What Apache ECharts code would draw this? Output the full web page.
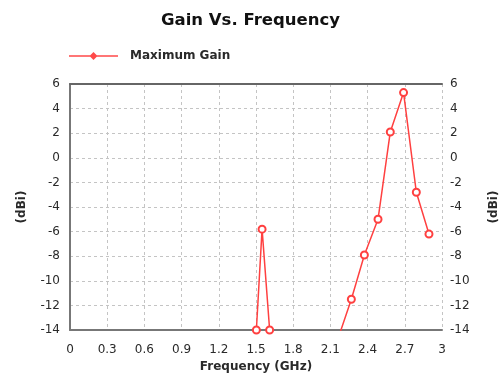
<!DOCTYPE html>
<html><head><meta charset="utf-8">
<script src="https://cdn.jsdelivr.net/npm/echarts@6/dist/echarts.min.js"></script>
<style>html,body{margin:0;padding:0;background:#fff}#c{width:501px;height:376px}</style>
</head><body><div id="c"></div>
<script>
const freqGHz = [1.503, 1.549, 1.61, null, 2.165, 2.269, 2.374, 2.484, 2.583, 2.69, 2.793, 2.895];
const maxGain = [-14, -5.8, -14, null, -14.6, -11.5, -7.9, -5.0, 2.1, 5.3, -2.8, -6.2];
const xTicks = [0, 0.3, 0.6, 0.9, 1.2, 1.5, 1.8, 2.1, 2.4, 2.7, 3];
const yTicks = [-14, -12, -10, -8, -6, -4, -2, 0, 2, 4, 6];
const seriesName = 'Maximum Gain';

const data = freqGHz.map((f, i) => (f === null ? [null, null] : [f, maxGain[i]]));
const font = 'DejaVu Sans, Verdana, sans-serif';
const labelStyle = {color: '#2a2a2a', fontSize: 12, fontFamily: font};
const nameStyle = {fontSize: 12, fontWeight: 'bold', color: '#2a2a2a', fontFamily: font};
const gridLine = {show: true, lineStyle: {color: '#c4c4c4', type: [3, 3], width: 1}};

const chart = echarts.init(document.getElementById('c'), null, {renderer: 'canvas'});
chart.setOption({
  animation: false,
  title: {text: 'Gain Vs. Frequency', left: 'center', top: 7,
    textStyle: {fontSize: 16.5, fontWeight: 'bold', color: '#111', fontFamily: font}},
  legend: {left: 64, top: 45, itemWidth: 49, itemHeight: 10, itemGap: 10,
    data: [{name: seriesName, icon: 'path://M0,4.2L49,4.2L49,5.8L0,5.8Z M20.5,5L24.5,1L28.5,5L24.5,9Z'}],
    itemStyle: {color: '#ff4a4a'},
    textStyle: Object.assign({padding: [0, 0, 0, 7]}, nameStyle)},
  grid: {left: 70, right: 59, top: 84, bottom: 46, containLabel: false, outerBoundsMode: 'none'},
  xAxis: [{
    type: 'value', min: 0, max: 3, interval: 0.3,
    name: 'Frequency (GHz)', nameLocation: 'middle', nameGap: 30,
    nameTextStyle: nameStyle,
    axisLine: {show: true, onZero: false, lineStyle: {color: '#777', width: 2}},
    axisTick: {show: false},
    axisLabel: Object.assign({margin: 14, formatter: v => String(+v.toFixed(1))}, labelStyle),
    splitLine: gridLine
  }, {
    type: 'value', min: 0, max: 3, interval: 0.3, position: 'top',
    axisLine: {show: true, onZero: false, lineStyle: {color: '#666', width: 2}},
    axisTick: {show: false}, axisLabel: {show: false}, splitLine: {show: false}
  }],
  yAxis: [{
    type: 'value', min: -14, max: 6, interval: 2,
    name: '(dBi)', nameLocation: 'middle', nameGap: 42, nameRotate: 90,
    nameTextStyle: nameStyle,
    axisLine: {show: true, onZero: false, lineStyle: {color: '#777', width: 2}},
    axisTick: {show: false},
    axisLabel: Object.assign({margin: 10}, labelStyle),
    splitLine: gridLine
  }, {
    type: 'value', min: -14, max: 6, interval: 2, position: 'right',
    name: '(dBi)', nameLocation: 'middle', nameGap: 46, nameRotate: 90,
    nameTextStyle: nameStyle,
    axisLine: {show: false}, axisTick: {show: false},
    axisLabel: Object.assign({margin: 8}, labelStyle),
    splitLine: {show: false}
  }],
  series: [{
    name: seriesName, type: 'line', data: data, clip: true, connectNulls: false,
    symbol: 'emptyCircle', symbolSize: 7,
    lineStyle: {color: '#ff4040', width: 1.5},
    itemStyle: {color: '#ff4040', borderWidth: 1.2},
    z: 5
  }]
});
</script></body></html>
